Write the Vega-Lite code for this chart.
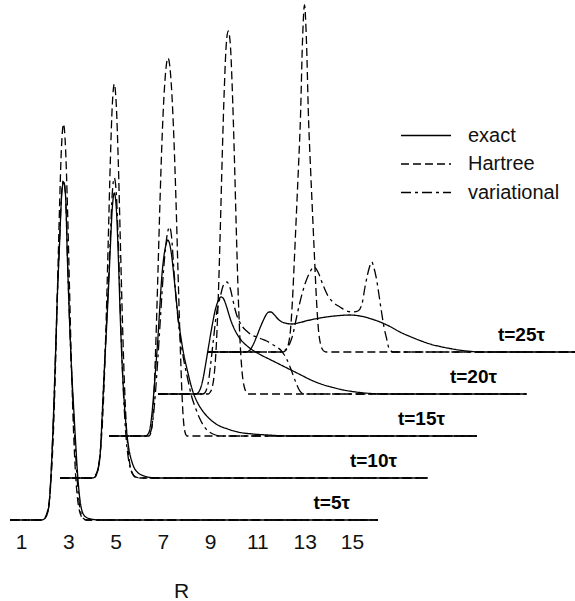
{
"$schema": "https://vega.github.io/schema/vega-lite/v6.json",
"width": 575, "height": 520,
"padding": {"left": 0, "top": 0, "right": 0, "bottom": 81},
"autosize": {"type": "none"},
"background": "white",
"config": {"view": {"stroke": null}, "font": "Liberation Sans"},
"layer": [
{
"data": {"values": [
{"s":"5e","m":"exact","R":0.535,"y":0},{"s":"5e","m":"exact","R":1.867,"y":0},{"s":"5e","m":"exact","R":1.952,"y":0.5},{"s":"5e","m":"exact","R":2.036,"y":2.5},{"s":"5e","m":"exact","R":2.121,"y":7},{"s":"5e","m":"exact","R":2.206,"y":20},{"s":"5e","m":"exact","R":2.290,"y":55},{"s":"5e","m":"exact","R":2.375,"y":105},{"s":"5e","m":"exact","R":2.459,"y":165},{"s":"5e","m":"exact","R":2.544,"y":228},{"s":"5e","m":"exact","R":2.629,"y":275},{"s":"5e","m":"exact","R":2.713,"y":322},{"s":"5e","m":"exact","R":2.798,"y":338},{"s":"5e","m":"exact","R":2.882,"y":325},{"s":"5e","m":"exact","R":2.967,"y":258},{"s":"5e","m":"exact","R":3.052,"y":200},{"s":"5e","m":"exact","R":3.136,"y":152},{"s":"5e","m":"exact","R":3.221,"y":115},{"s":"5e","m":"exact","R":3.305,"y":80},{"s":"5e","m":"exact","R":3.390,"y":47},{"s":"5e","m":"exact","R":3.475,"y":24},{"s":"5e","m":"exact","R":3.559,"y":11},{"s":"5e","m":"exact","R":3.644,"y":5.5},{"s":"5e","m":"exact","R":3.813,"y":2},{"s":"5e","m":"exact","R":4.067,"y":0.5},{"s":"5e","m":"exact","R":4.321,"y":0},{"s":"5e","m":"exact","R":16.101,"y":0},
{"s":"5h","m":"Hartree","R":0.535,"y":0},{"s":"5h","m":"Hartree","R":1.825,"y":0},{"s":"5h","m":"Hartree","R":1.952,"y":1},{"s":"5h","m":"Hartree","R":2.036,"y":3.2},{"s":"5h","m":"Hartree","R":2.121,"y":8.8},{"s":"5h","m":"Hartree","R":2.206,"y":21.5},{"s":"5h","m":"Hartree","R":2.290,"y":47},{"s":"5h","m":"Hartree","R":2.375,"y":90},{"s":"5h","m":"Hartree","R":2.459,"y":153},{"s":"5h","m":"Hartree","R":2.544,"y":232},{"s":"5h","m":"Hartree","R":2.629,"y":312},{"s":"5h","m":"Hartree","R":2.713,"y":373},{"s":"5h","m":"Hartree","R":2.798,"y":396},{"s":"5h","m":"Hartree","R":2.882,"y":373},{"s":"5h","m":"Hartree","R":2.967,"y":312},{"s":"5h","m":"Hartree","R":3.052,"y":232},{"s":"5h","m":"Hartree","R":3.136,"y":153},{"s":"5h","m":"Hartree","R":3.221,"y":90},{"s":"5h","m":"Hartree","R":3.305,"y":47},{"s":"5h","m":"Hartree","R":3.390,"y":21.5},{"s":"5h","m":"Hartree","R":3.475,"y":8.8},{"s":"5h","m":"Hartree","R":3.559,"y":3.2},{"s":"5h","m":"Hartree","R":3.644,"y":1},{"s":"5h","m":"Hartree","R":3.771,"y":0},{"s":"5h","m":"Hartree","R":16.101,"y":0},
{"s":"5v","m":"variational","R":0.535,"y":0},{"s":"5v","m":"variational","R":1.867,"y":0},{"s":"5v","m":"variational","R":1.952,"y":0.5},{"s":"5v","m":"variational","R":2.036,"y":2.5},{"s":"5v","m":"variational","R":2.121,"y":7},{"s":"5v","m":"variational","R":2.206,"y":20},{"s":"5v","m":"variational","R":2.290,"y":55},{"s":"5v","m":"variational","R":2.375,"y":105},{"s":"5v","m":"variational","R":2.459,"y":165},{"s":"5v","m":"variational","R":2.544,"y":228},{"s":"5v","m":"variational","R":2.629,"y":278},{"s":"5v","m":"variational","R":2.713,"y":325},{"s":"5v","m":"variational","R":2.798,"y":340},{"s":"5v","m":"variational","R":2.882,"y":325},{"s":"5v","m":"variational","R":2.967,"y":262},{"s":"5v","m":"variational","R":3.052,"y":200},{"s":"5v","m":"variational","R":3.136,"y":150},{"s":"5v","m":"variational","R":3.221,"y":108},{"s":"5v","m":"variational","R":3.305,"y":68},{"s":"5v","m":"variational","R":3.390,"y":36},{"s":"5v","m":"variational","R":3.475,"y":15},{"s":"5v","m":"variational","R":3.559,"y":5},{"s":"5v","m":"variational","R":3.644,"y":1.5},{"s":"5v","m":"variational","R":3.771,"y":0},{"s":"5v","m":"variational","R":16.101,"y":0},
{"s":"10e","m":"exact","R":2.650,"y":42},{"s":"10e","m":"exact","R":4.016,"y":42},{"s":"10e","m":"exact","R":4.101,"y":42.5},{"s":"10e","m":"exact","R":4.185,"y":45},{"s":"10e","m":"exact","R":4.270,"y":52},{"s":"10e","m":"exact","R":4.354,"y":67},{"s":"10e","m":"exact","R":4.439,"y":107},{"s":"10e","m":"exact","R":4.524,"y":150},{"s":"10e","m":"exact","R":4.608,"y":187},{"s":"10e","m":"exact","R":4.693,"y":227},{"s":"10e","m":"exact","R":4.778,"y":272},{"s":"10e","m":"exact","R":4.862,"y":312},{"s":"10e","m":"exact","R":4.947,"y":327},{"s":"10e","m":"exact","R":5.031,"y":312},{"s":"10e","m":"exact","R":5.116,"y":264},{"s":"10e","m":"exact","R":5.200,"y":202},{"s":"10e","m":"exact","R":5.285,"y":152},{"s":"10e","m":"exact","R":5.370,"y":117},{"s":"10e","m":"exact","R":5.454,"y":92},{"s":"10e","m":"exact","R":5.539,"y":75},{"s":"10e","m":"exact","R":5.624,"y":64},{"s":"10e","m":"exact","R":5.708,"y":57},{"s":"10e","m":"exact","R":5.793,"y":52},{"s":"10e","m":"exact","R":5.962,"y":47},{"s":"10e","m":"exact","R":6.216,"y":44},{"s":"10e","m":"exact","R":6.470,"y":42.5},{"s":"10e","m":"exact","R":6.850,"y":42},{"s":"10e","m":"exact","R":18.196,"y":42},
{"s":"10h","m":"Hartree","R":2.650,"y":42},{"s":"10h","m":"Hartree","R":3.974,"y":42},{"s":"10h","m":"Hartree","R":4.101,"y":43.5},{"s":"10h","m":"Hartree","R":4.185,"y":46.4},{"s":"10h","m":"Hartree","R":4.270,"y":53},{"s":"10h","m":"Hartree","R":4.354,"y":68},{"s":"10h","m":"Hartree","R":4.439,"y":95},{"s":"10h","m":"Hartree","R":4.524,"y":140},{"s":"10h","m":"Hartree","R":4.608,"y":204},{"s":"10h","m":"Hartree","R":4.693,"y":281},{"s":"10h","m":"Hartree","R":4.778,"y":358},{"s":"10h","m":"Hartree","R":4.862,"y":415},{"s":"10h","m":"Hartree","R":4.947,"y":436},{"s":"10h","m":"Hartree","R":5.031,"y":415},{"s":"10h","m":"Hartree","R":5.116,"y":358},{"s":"10h","m":"Hartree","R":5.200,"y":281},{"s":"10h","m":"Hartree","R":5.285,"y":204},{"s":"10h","m":"Hartree","R":5.370,"y":140},{"s":"10h","m":"Hartree","R":5.454,"y":95},{"s":"10h","m":"Hartree","R":5.539,"y":68},{"s":"10h","m":"Hartree","R":5.624,"y":53},{"s":"10h","m":"Hartree","R":5.708,"y":46.4},{"s":"10h","m":"Hartree","R":5.793,"y":43.5},{"s":"10h","m":"Hartree","R":5.920,"y":42},{"s":"10h","m":"Hartree","R":18.196,"y":42},
{"s":"10v","m":"variational","R":2.650,"y":42},{"s":"10v","m":"variational","R":4.016,"y":42},{"s":"10v","m":"variational","R":4.101,"y":42.5},{"s":"10v","m":"variational","R":4.185,"y":45},{"s":"10v","m":"variational","R":4.270,"y":52},{"s":"10v","m":"variational","R":4.354,"y":67},{"s":"10v","m":"variational","R":4.439,"y":107},{"s":"10v","m":"variational","R":4.524,"y":150},{"s":"10v","m":"variational","R":4.608,"y":192},{"s":"10v","m":"variational","R":4.693,"y":234},{"s":"10v","m":"variational","R":4.778,"y":282},{"s":"10v","m":"variational","R":4.862,"y":327},{"s":"10v","m":"variational","R":4.947,"y":342},{"s":"10v","m":"variational","R":5.031,"y":327},{"s":"10v","m":"variational","R":5.116,"y":277},{"s":"10v","m":"variational","R":5.200,"y":212},{"s":"10v","m":"variational","R":5.285,"y":154},{"s":"10v","m":"variational","R":5.370,"y":110},{"s":"10v","m":"variational","R":5.454,"y":80},{"s":"10v","m":"variational","R":5.539,"y":62},{"s":"10v","m":"variational","R":5.624,"y":52},{"s":"10v","m":"variational","R":5.708,"y":47},{"s":"10v","m":"variational","R":5.793,"y":44},{"s":"10v","m":"variational","R":5.920,"y":42.5},{"s":"10v","m":"variational","R":6.046,"y":42},{"s":"10v","m":"variational","R":18.196,"y":42},
{"s":"15e","m":"exact","R":4.723,"y":84},{"s":"15e","m":"exact","R":6.275,"y":84},{"s":"15e","m":"exact","R":6.360,"y":85.5},{"s":"15e","m":"exact","R":6.444,"y":90},{"s":"15e","m":"exact","R":6.529,"y":104},{"s":"15e","m":"exact","R":6.613,"y":126},{"s":"15e","m":"exact","R":6.698,"y":152},{"s":"15e","m":"exact","R":6.783,"y":179},{"s":"15e","m":"exact","R":6.867,"y":211},{"s":"15e","m":"exact","R":6.952,"y":242},{"s":"15e","m":"exact","R":7.036,"y":262},{"s":"15e","m":"exact","R":7.121,"y":274},{"s":"15e","m":"exact","R":7.206,"y":280},{"s":"15e","m":"exact","R":7.290,"y":276},{"s":"15e","m":"exact","R":7.375,"y":264},{"s":"15e","m":"exact","R":7.459,"y":246},{"s":"15e","m":"exact","R":7.544,"y":226},{"s":"15e","m":"exact","R":7.629,"y":206},{"s":"15e","m":"exact","R":7.756,"y":184},{"s":"15e","m":"exact","R":7.882,"y":166},{"s":"15e","m":"exact","R":8.052,"y":148},{"s":"15e","m":"exact","R":8.263,"y":129},{"s":"15e","m":"exact","R":8.475,"y":117},{"s":"15e","m":"exact","R":8.686,"y":109},{"s":"15e","m":"exact","R":8.898,"y":103},{"s":"15e","m":"exact","R":9.321,"y":95},{"s":"15e","m":"exact","R":9.744,"y":91},{"s":"15e","m":"exact","R":10.167,"y":88},{"s":"15e","m":"exact","R":10.801,"y":86},{"s":"15e","m":"exact","R":11.436,"y":85},{"s":"15e","m":"exact","R":12.282,"y":84},{"s":"15e","m":"exact","R":20.289,"y":84},
{"s":"15h","m":"Hartree","R":4.723,"y":84},{"s":"15h","m":"Hartree","R":6.415,"y":84},{"s":"15h","m":"Hartree","R":6.457,"y":85},{"s":"15h","m":"Hartree","R":6.499,"y":88},{"s":"15h","m":"Hartree","R":6.541,"y":94},{"s":"15h","m":"Hartree","R":6.584,"y":106},{"s":"15h","m":"Hartree","R":6.626,"y":126},{"s":"15h","m":"Hartree","R":6.711,"y":182},{"s":"15h","m":"Hartree","R":6.795,"y":249},{"s":"15h","m":"Hartree","R":6.880,"y":319},{"s":"15h","m":"Hartree","R":6.964,"y":379},{"s":"15h","m":"Hartree","R":7.049,"y":424},{"s":"15h","m":"Hartree","R":7.134,"y":452},{"s":"15h","m":"Hartree","R":7.218,"y":462},{"s":"15h","m":"Hartree","R":7.303,"y":452},{"s":"15h","m":"Hartree","R":7.387,"y":424},{"s":"15h","m":"Hartree","R":7.472,"y":379},{"s":"15h","m":"Hartree","R":7.557,"y":319},{"s":"15h","m":"Hartree","R":7.641,"y":249},{"s":"15h","m":"Hartree","R":7.726,"y":182},{"s":"15h","m":"Hartree","R":7.810,"y":126},{"s":"15h","m":"Hartree","R":7.853,"y":106},{"s":"15h","m":"Hartree","R":7.895,"y":94},{"s":"15h","m":"Hartree","R":7.937,"y":88},{"s":"15h","m":"Hartree","R":7.980,"y":85},{"s":"15h","m":"Hartree","R":8.022,"y":84},{"s":"15h","m":"Hartree","R":20.289,"y":84},
{"s":"15v","m":"variational","R":4.723,"y":84},{"s":"15v","m":"variational","R":6.351,"y":84},{"s":"15v","m":"variational","R":6.436,"y":86},{"s":"15v","m":"variational","R":6.520,"y":91},{"s":"15v","m":"variational","R":6.605,"y":105},{"s":"15v","m":"variational","R":6.690,"y":128},{"s":"15v","m":"variational","R":6.774,"y":156},{"s":"15v","m":"variational","R":6.859,"y":187},{"s":"15v","m":"variational","R":6.943,"y":219},{"s":"15v","m":"variational","R":7.028,"y":249},{"s":"15v","m":"variational","R":7.113,"y":272},{"s":"15v","m":"variational","R":7.197,"y":287},{"s":"15v","m":"variational","R":7.282,"y":293},{"s":"15v","m":"variational","R":7.366,"y":284},{"s":"15v","m":"variational","R":7.451,"y":256},{"s":"15v","m":"variational","R":7.536,"y":229},{"s":"15v","m":"variational","R":7.662,"y":196},{"s":"15v","m":"variational","R":7.789,"y":174},{"s":"15v","m":"variational","R":7.916,"y":156},{"s":"15v","m":"variational","R":8.043,"y":142},{"s":"15v","m":"variational","R":8.212,"y":124},{"s":"15v","m":"variational","R":8.382,"y":112},{"s":"15v","m":"variational","R":8.551,"y":102},{"s":"15v","m":"variational","R":8.762,"y":93},{"s":"15v","m":"variational","R":8.974,"y":88},{"s":"15v","m":"variational","R":9.228,"y":85},{"s":"15v","m":"variational","R":9.481,"y":84},{"s":"15v","m":"variational","R":20.289,"y":84},
{"s":"20e","m":"exact","R":6.795,"y":126},{"s":"20e","m":"exact","R":8.403,"y":126},{"s":"20e","m":"exact","R":8.530,"y":128.5},{"s":"20e","m":"exact","R":8.614,"y":133},{"s":"20e","m":"exact","R":8.699,"y":141},{"s":"20e","m":"exact","R":8.783,"y":152},{"s":"20e","m":"exact","R":8.868,"y":164},{"s":"20e","m":"exact","R":8.953,"y":176},{"s":"20e","m":"exact","R":9.037,"y":188},{"s":"20e","m":"exact","R":9.122,"y":199},{"s":"20e","m":"exact","R":9.206,"y":209},{"s":"20e","m":"exact","R":9.291,"y":216},{"s":"20e","m":"exact","R":9.376,"y":221},{"s":"20e","m":"exact","R":9.460,"y":223},{"s":"20e","m":"exact","R":9.545,"y":222},{"s":"20e","m":"exact","R":9.629,"y":218},{"s":"20e","m":"exact","R":9.714,"y":212},{"s":"20e","m":"exact","R":9.841,"y":202},{"s":"20e","m":"exact","R":9.968,"y":194},{"s":"20e","m":"exact","R":10.137,"y":186},{"s":"20e","m":"exact","R":10.306,"y":180},{"s":"20e","m":"exact","R":10.518,"y":175},{"s":"20e","m":"exact","R":10.729,"y":171},{"s":"20e","m":"exact","R":11.152,"y":165},{"s":"20e","m":"exact","R":11.575,"y":160},{"s":"20e","m":"exact","R":11.998,"y":155},{"s":"20e","m":"exact","R":12.421,"y":150},{"s":"20e","m":"exact","R":12.844,"y":145},{"s":"20e","m":"exact","R":13.267,"y":140},{"s":"20e","m":"exact","R":13.690,"y":136},{"s":"20e","m":"exact","R":14.113,"y":133},{"s":"20e","m":"exact","R":14.536,"y":130.5},{"s":"20e","m":"exact","R":15.171,"y":128},{"s":"20e","m":"exact","R":15.805,"y":126.5},{"s":"20e","m":"exact","R":16.440,"y":126},{"s":"20e","m":"exact","R":22.383,"y":126},
{"s":"20h","m":"Hartree","R":6.795,"y":126},{"s":"20h","m":"Hartree","R":8.923,"y":126},{"s":"20h","m":"Hartree","R":9.008,"y":128},{"s":"20h","m":"Hartree","R":9.092,"y":133},{"s":"20h","m":"Hartree","R":9.177,"y":146},{"s":"20h","m":"Hartree","R":9.261,"y":174},{"s":"20h","m":"Hartree","R":9.346,"y":223},{"s":"20h","m":"Hartree","R":9.431,"y":291},{"s":"20h","m":"Hartree","R":9.515,"y":366},{"s":"20h","m":"Hartree","R":9.600,"y":431},{"s":"20h","m":"Hartree","R":9.684,"y":476},{"s":"20h","m":"Hartree","R":9.769,"y":489},{"s":"20h","m":"Hartree","R":9.854,"y":476},{"s":"20h","m":"Hartree","R":9.938,"y":431},{"s":"20h","m":"Hartree","R":10.023,"y":366},{"s":"20h","m":"Hartree","R":10.107,"y":291},{"s":"20h","m":"Hartree","R":10.192,"y":223},{"s":"20h","m":"Hartree","R":10.277,"y":174},{"s":"20h","m":"Hartree","R":10.361,"y":146},{"s":"20h","m":"Hartree","R":10.446,"y":133},{"s":"20h","m":"Hartree","R":10.530,"y":128},{"s":"20h","m":"Hartree","R":10.615,"y":126},{"s":"20h","m":"Hartree","R":22.383,"y":126},
{"s":"20v","m":"variational","R":6.795,"y":126},{"s":"20v","m":"variational","R":8.686,"y":126},{"s":"20v","m":"variational","R":8.771,"y":127},{"s":"20v","m":"variational","R":8.855,"y":131},{"s":"20v","m":"variational","R":8.940,"y":140},{"s":"20v","m":"variational","R":9.024,"y":156},{"s":"20v","m":"variational","R":9.109,"y":174},{"s":"20v","m":"variational","R":9.194,"y":192},{"s":"20v","m":"variational","R":9.278,"y":208},{"s":"20v","m":"variational","R":9.363,"y":217},{"s":"20v","m":"variational","R":9.447,"y":225},{"s":"20v","m":"variational","R":9.532,"y":233},{"s":"20v","m":"variational","R":9.617,"y":237},{"s":"20v","m":"variational","R":9.701,"y":238},{"s":"20v","m":"variational","R":9.786,"y":236},{"s":"20v","m":"variational","R":9.870,"y":230},{"s":"20v","m":"variational","R":9.955,"y":221},{"s":"20v","m":"variational","R":10.040,"y":212},{"s":"20v","m":"variational","R":10.124,"y":205},{"s":"20v","m":"variational","R":10.251,"y":198},{"s":"20v","m":"variational","R":10.378,"y":193},{"s":"20v","m":"variational","R":10.547,"y":189},{"s":"20v","m":"variational","R":10.759,"y":185},{"s":"20v","m":"variational","R":10.970,"y":183},{"s":"20v","m":"variational","R":11.182,"y":181},{"s":"20v","m":"variational","R":11.393,"y":179},{"s":"20v","m":"variational","R":11.605,"y":176},{"s":"20v","m":"variational","R":11.816,"y":173},{"s":"20v","m":"variational","R":11.986,"y":170},{"s":"20v","m":"variational","R":12.113,"y":166},{"s":"20v","m":"variational","R":12.239,"y":161},{"s":"20v","m":"variational","R":12.366,"y":154},{"s":"20v","m":"variational","R":12.493,"y":146},{"s":"20v","m":"variational","R":12.620,"y":138},{"s":"20v","m":"variational","R":12.747,"y":131},{"s":"20v","m":"variational","R":12.874,"y":127},{"s":"20v","m":"variational","R":13.001,"y":126},{"s":"20v","m":"variational","R":22.383,"y":126},
{"s":"25e","m":"exact","R":8.910,"y":168},{"s":"25e","m":"exact","R":10.518,"y":168},{"s":"25e","m":"exact","R":10.687,"y":170},{"s":"25e","m":"exact","R":10.814,"y":175},{"s":"25e","m":"exact","R":10.962,"y":183},{"s":"25e","m":"exact","R":11.110,"y":192},{"s":"25e","m":"exact","R":11.237,"y":199},{"s":"25e","m":"exact","R":11.364,"y":205},{"s":"25e","m":"exact","R":11.491,"y":208},{"s":"25e","m":"exact","R":11.575,"y":208},{"s":"25e","m":"exact","R":11.702,"y":205.5},{"s":"25e","m":"exact","R":11.871,"y":201},{"s":"25e","m":"exact","R":12.041,"y":198},{"s":"25e","m":"exact","R":12.252,"y":196.5},{"s":"25e","m":"exact","R":12.464,"y":196},{"s":"25e","m":"exact","R":12.802,"y":197.5},{"s":"25e","m":"exact","R":13.225,"y":200},{"s":"25e","m":"exact","R":13.648,"y":202},{"s":"25e","m":"exact","R":14.071,"y":203.5},{"s":"25e","m":"exact","R":14.494,"y":204.5},{"s":"25e","m":"exact","R":14.917,"y":205},{"s":"25e","m":"exact","R":15.340,"y":204},{"s":"25e","m":"exact","R":15.763,"y":201.5},{"s":"25e","m":"exact","R":16.186,"y":198},{"s":"25e","m":"exact","R":16.609,"y":193.5},{"s":"25e","m":"exact","R":17.032,"y":188},{"s":"25e","m":"exact","R":17.455,"y":183.5},{"s":"25e","m":"exact","R":17.878,"y":179.5},{"s":"25e","m":"exact","R":18.301,"y":176},{"s":"25e","m":"exact","R":18.724,"y":173.5},{"s":"25e","m":"exact","R":19.147,"y":171.5},{"s":"25e","m":"exact","R":19.570,"y":169.8},{"s":"25e","m":"exact","R":19.993,"y":168.7},{"s":"25e","m":"exact","R":20.416,"y":168},{"s":"25e","m":"exact","R":24.435,"y":168},
{"s":"25h","m":"Hartree","R":8.910,"y":168},{"s":"25h","m":"Hartree","R":12.061,"y":168},{"s":"25h","m":"Hartree","R":12.146,"y":168.5},{"s":"25h","m":"Hartree","R":12.231,"y":170.5},{"s":"25h","m":"Hartree","R":12.315,"y":176},{"s":"25h","m":"Hartree","R":12.400,"y":190},{"s":"25h","m":"Hartree","R":12.484,"y":220},{"s":"25h","m":"Hartree","R":12.569,"y":263},{"s":"25h","m":"Hartree","R":12.654,"y":308},{"s":"25h","m":"Hartree","R":12.738,"y":353},{"s":"25h","m":"Hartree","R":12.823,"y":403},{"s":"25h","m":"Hartree","R":12.907,"y":478},{"s":"25h","m":"Hartree","R":12.992,"y":515},{"s":"25h","m":"Hartree","R":13.077,"y":478},{"s":"25h","m":"Hartree","R":13.161,"y":403},{"s":"25h","m":"Hartree","R":13.246,"y":353},{"s":"25h","m":"Hartree","R":13.330,"y":308},{"s":"25h","m":"Hartree","R":13.415,"y":263},{"s":"25h","m":"Hartree","R":13.500,"y":220},{"s":"25h","m":"Hartree","R":13.584,"y":190},{"s":"25h","m":"Hartree","R":13.669,"y":176},{"s":"25h","m":"Hartree","R":13.753,"y":170.5},{"s":"25h","m":"Hartree","R":13.838,"y":168.5},{"s":"25h","m":"Hartree","R":13.923,"y":168},{"s":"25h","m":"Hartree","R":24.435,"y":168},
{"s":"25v","m":"variational","R":8.910,"y":168},{"s":"25v","m":"variational","R":11.998,"y":168},{"s":"25v","m":"variational","R":12.125,"y":169},{"s":"25v","m":"variational","R":12.252,"y":172},{"s":"25v","m":"variational","R":12.379,"y":177},{"s":"25v","m":"variational","R":12.506,"y":186},{"s":"25v","m":"variational","R":12.633,"y":200},{"s":"25v","m":"variational","R":12.802,"y":218},{"s":"25v","m":"variational","R":13.013,"y":236},{"s":"25v","m":"variational","R":13.225,"y":248},{"s":"25v","m":"variational","R":13.394,"y":253},{"s":"25v","m":"variational","R":13.563,"y":248},{"s":"25v","m":"variational","R":13.775,"y":235},{"s":"25v","m":"variational","R":13.986,"y":224},{"s":"25v","m":"variational","R":14.240,"y":217},{"s":"25v","m":"variational","R":14.494,"y":213},{"s":"25v","m":"variational","R":14.790,"y":209},{"s":"25v","m":"variational","R":15.044,"y":208},{"s":"25v","m":"variational","R":15.256,"y":209},{"s":"25v","m":"variational","R":15.425,"y":216},{"s":"25v","m":"variational","R":15.552,"y":233},{"s":"25v","m":"variational","R":15.636,"y":243},{"s":"25v","m":"variational","R":15.742,"y":253},{"s":"25v","m":"variational","R":15.835,"y":258},{"s":"25v","m":"variational","R":15.932,"y":252},{"s":"25v","m":"variational","R":16.046,"y":240},{"s":"25v","m":"variational","R":16.144,"y":225},{"s":"25v","m":"variational","R":16.258,"y":207},{"s":"25v","m":"variational","R":16.355,"y":193},{"s":"25v","m":"variational","R":16.461,"y":182},{"s":"25v","m":"variational","R":16.546,"y":173},{"s":"25v","m":"variational","R":16.651,"y":169},{"s":"25v","m":"variational","R":16.736,"y":168},{"s":"25v","m":"variational","R":24.435,"y":168}
]},
"mark": {"type": "line", "color": "black", "strokeWidth": 1.3, "interpolate": "monotone"},
"encoding": {
"x": {"field": "R", "type": "quantitative", "scale": {"domain": [0.1117, 24.4357], "nice": false, "zero": false},
 "axis": {"values": [1,3,5,7,9,11,13,15], "domain": false, "ticks": false, "grid": false, "labelFlush": false, "labelFontSize": 21, "labelPadding": 11, "labelColor": "#111", "title": "R", "titleFontSize": 21, "titleFontWeight": "normal", "titleColor": "#111", "titleX": 181, "titleY": 77, "titleBaseline": "alphabetic", "titleAlign": "center"}},
"y": {"field": "y", "type": "quantitative", "scale": {"domain": [0, 520], "nice": false, "zero": false}, "axis": null},
"detail": {"field": "s"},
"strokeDash": {"field": "m", "type": "nominal", "scale": {"domain": ["exact", "Hartree", "variational"], "range": [[1,0],[8,4],[10,4,3,4]]},
 "legend": {"title": null, "orient": "none", "legendX": 412.5, "legendY": 122, "symbolType": "M-2,0H2", "symbolSize": 625, "symbolStrokeWidth": 1.3, "symbolStrokeColor": "black", "labelFontSize": 20, "labelFont": "Liberation Sans", "labelColor": "#111", "labelOffset": 28.5, "rowPadding": 4.5, "padding": 0, "labelLimit": 200}}
}
},
{
"data": {"values": [
{"lab": "t=5τ", "R": 14.917, "y": 17.5},
{"lab": "t=10τ", "R": 16.905, "y": 59.5},
{"lab": "t=15τ", "R": 18.936, "y": 101.5},
{"lab": "t=20τ", "R": 21.135, "y": 143.5},
{"lab": "t=25τ", "R": 23.166, "y": 185.5}
]},
"mark": {"type": "text", "align": "right", "baseline": "middle", "fontSize": 19, "fontWeight": "bold", "font": "Liberation Sans", "color": "black"},
"encoding": {
"x": {"field": "R", "type": "quantitative"},
"y": {"field": "y", "type": "quantitative"},
"text": {"field": "lab"}
}
}
]
}
